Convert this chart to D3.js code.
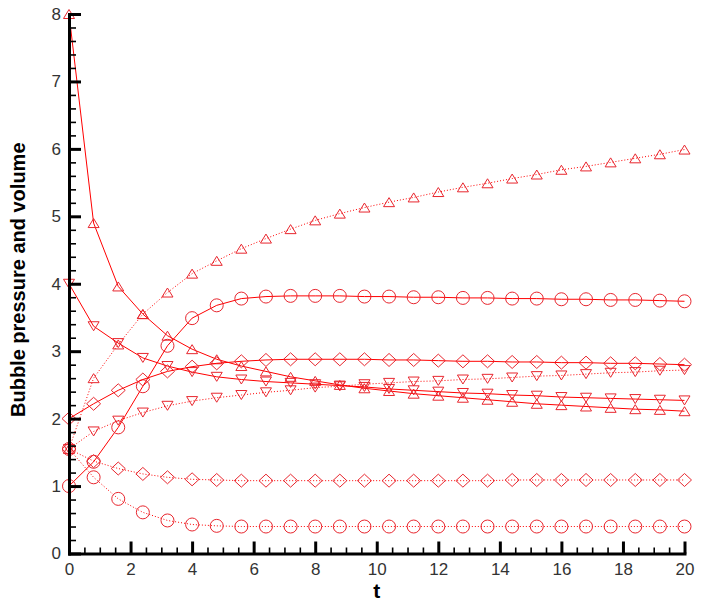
<!DOCTYPE html>
<html>
<head>
<meta charset="utf-8">
<script src="https://cdn.jsdelivr.net/npm/d3@7"></script>
<style>
  body { margin: 0; background: #fff; }
  svg { display: block; font-family: "Liberation Sans", Arial, sans-serif; }
</style>
</head>
<body>
<div id="chart"></div>
<script>
// ------------------- //
// DATA
// ------------------- //

// time samples (one marker on every sample)
var tValues = [0, 0.8, 1.6, 2.4, 3.2, 4, 4.8, 5.6, 6.4, 7.2, 8, 8.8, 9.6,
  10.4, 11.2, 12, 12.8, 13.6, 14.4, 15.2, 16, 16.8, 17.6, 18.4, 19.2, 20]

// solid lines
var triUpSolid = [8.0, 4.9, 3.96, 3.55, 3.23, 3.03, 2.88, 2.78, 2.70, 2.62, 2.56, 2.50, 2.45,
  2.41, 2.37, 2.34, 2.31, 2.28, 2.25, 2.22, 2.20, 2.18, 2.16, 2.14, 2.13, 2.11]
var triDownSolid = [4.0, 3.37, 3.12, 2.90, 2.78, 2.69, 2.62, 2.58, 2.55, 2.53, 2.51, 2.49, 2.47,
  2.44, 2.42, 2.40, 2.38, 2.37, 2.35, 2.34, 2.32, 2.31, 2.30, 2.29, 2.28, 2.27]
var circleSolid = [1.0, 1.36, 1.87, 2.48, 3.08, 3.49, 3.68, 3.78, 3.81, 3.82, 3.82, 3.82, 3.81,
  3.81, 3.80, 3.80, 3.79, 3.79, 3.78, 3.78, 3.77, 3.77, 3.76, 3.76, 3.75, 3.74]
var diamondSolid = [2.0, 2.22, 2.42, 2.58, 2.70, 2.77, 2.82, 2.85, 2.87, 2.88, 2.88, 2.88, 2.88,
  2.87, 2.87, 2.86, 2.85, 2.85, 2.84, 2.84, 2.83, 2.83, 2.82, 2.82, 2.81, 2.80]

// dotted lines
var triUpDotted = [1.55, 2.6, 3.1, 3.55, 3.87, 4.15, 4.34, 4.52, 4.67, 4.81, 4.94, 5.04, 5.13,
  5.21, 5.28, 5.36, 5.43, 5.49, 5.56, 5.62, 5.69, 5.74, 5.80, 5.86, 5.92, 5.99]
var triDownDotted = [1.55, 1.81, 1.97, 2.09, 2.19, 2.26, 2.31, 2.35, 2.39, 2.42, 2.46, 2.48, 2.51,
  2.53, 2.55, 2.56, 2.58, 2.59, 2.61, 2.63, 2.64, 2.66, 2.68, 2.69, 2.71, 2.72]
var diamondDotted = [1.55, 1.37, 1.26, 1.18, 1.13, 1.10, 1.09, 1.08, 1.08, 1.08, 1.08, 1.08, 1.08,
  1.08, 1.08, 1.08, 1.08, 1.08, 1.09, 1.09, 1.09, 1.09, 1.09, 1.09, 1.09, 1.09]
var circleDotted = [1.55, 1.13, 0.81, 0.61, 0.49, 0.43, 0.41, 0.40, 0.40, 0.40, 0.40, 0.40, 0.40,
  0.40, 0.40, 0.40, 0.40, 0.40, 0.40, 0.40, 0.40, 0.40, 0.40, 0.40, 0.40, 0.40]

// axis ticks
var xMajorTicks = [0, 2, 4, 6, 8, 10, 12, 14, 16, 18, 20]
var xMinorTicks = [0.5, 1, 1.5, 2.5, 3, 3.5, 4.5, 5, 5.5, 6.5, 7, 7.5, 8.5, 9, 9.5, 10.5, 11, 11.5,
  12.5, 13, 13.5, 14.5, 15, 15.5, 16.5, 17, 17.5, 18.5, 19, 19.5]
var yMajorTicks = [0, 1, 2, 3, 4, 5, 6, 7, 8]
var yMinorTicks = [0.2, 0.4, 0.6, 0.8, 1.2, 1.4, 1.6, 1.8, 2.2, 2.4, 2.6, 2.8, 3.2, 3.4, 3.6, 3.8,
  4.2, 4.4, 4.6, 4.8, 5.2, 5.4, 5.6, 5.8, 6.2, 6.4, 6.6, 6.8, 7.2, 7.4, 7.6, 7.8]

var series = [
  {values: triUpSolid,    symbol: "triUp",   dotted: false},
  {values: triDownSolid,  symbol: "triDown", dotted: false},
  {values: circleSolid,   symbol: "circle",  dotted: false},
  {values: diamondSolid,  symbol: "diamond", dotted: false},
  {values: triUpDotted,   symbol: "triUp",   dotted: true},
  {values: triDownDotted, symbol: "triDown", dotted: true},
  {values: diamondDotted, symbol: "diamond", dotted: true},
  {values: circleDotted,  symbol: "circle",  dotted: true}
]

// ------------------- //
// SVG AND SCALES
// ------------------- //

var W = 701, H = 602
var svg = d3.select("#chart")
  .append("svg")
    .attr("width", W)
    .attr("height", H)

var x = d3.scaleLinear().domain([0, 20]).range([69, 684.5])
var y = d3.scaleLinear().domain([0, 8]).range([553.5, 14])

var red = "#f00"

// marker outlines, centred on the point
function markerPath(kind) {
  if (kind == "circle") return "M6.5,0A6.5,6.5 0 1,1 -6.5,0A6.5,6.5 0 1,1 6.5,0Z"
  if (kind == "diamond") return "M0,-6.5L7,0L0,6.5L-7,0Z"
  if (kind == "triUp") return "M0,-4.5L5.5,4.5L-5.5,4.5Z"
  return "M0,4.5L5.5,-4.5L-5.5,-4.5Z"
}

// ------------------- //
// LINES AND MARKERS
// ------------------- //

var line = d3.line()
  .x(function(d, i) { return x(tValues[i]) })
  .y(function(d) { return y(d) })

series.forEach(function(s) {
  svg.append("path")
    .datum(s.values)
    .attr("d", line)
    .attr("fill", "none")
    .attr("stroke", red)
    .attr("stroke-width", 1)
    .attr("stroke-dasharray", s.dotted ? "1,2" : null)

  svg.append("g")
    .selectAll("path")
    .data(s.values)
    .enter()
    .append("path")
      .attr("transform", function(d, i) { return "translate(" + x(tValues[i]) + "," + y(d) + ")" })
      .attr("d", markerPath(s.symbol))
      .attr("fill", "none")
      .attr("stroke", "#e8262e")
      .attr("stroke-width", 1)
})

// ------------------- //
// AXES
// ------------------- //

var xAxis = svg.append("g")
  .attr("transform", "translate(0," + y(0) + ")")
  .call(d3.axisBottom(x).tickValues(xMajorTicks).tickSize(-12).tickSizeOuter(0).tickPadding(9))
var xMinor = svg.append("g")
  .attr("transform", "translate(0," + y(0) + ")")
  .call(d3.axisBottom(x).tickValues(xMinorTicks).tickSize(-6).tickSizeOuter(0).tickFormat(""))

var yAxis = svg.append("g")
  .attr("transform", "translate(" + x(0) + ",0)")
  .call(d3.axisLeft(y).tickValues(yMajorTicks).tickSize(-12).tickSizeOuter(0).tickPadding(8))
var yMinor = svg.append("g")
  .attr("transform", "translate(" + x(0) + ",0)")
  .call(d3.axisLeft(y).tickValues(yMinorTicks).tickSize(-7).tickSizeOuter(0).tickFormat(""))

svg.selectAll(".domain").attr("stroke", "#000").attr("stroke-width", 3).attr("stroke-linecap", "square")
xAxis.selectAll(".tick line").attr("stroke", "#000").attr("stroke-width", 3)
yAxis.selectAll(".tick line").attr("stroke", "#000").attr("stroke-width", 3)
xMinor.selectAll(".tick line").attr("stroke", "#000").attr("stroke-width", 1.6)
yMinor.selectAll(".tick line").attr("stroke", "#000").attr("stroke-width", 1.6)
xMinor.select(".domain").remove()
yMinor.select(".domain").remove()

svg.selectAll(".tick text")
  .style("font-size", "17px")
  .style("font-family", "'Liberation Sans', Arial, sans-serif")
  .attr("fill", "#333")

// axis titles
svg.append("text")
  .attr("x", (x(0) + x(20)) / 2)
  .attr("y", 597.5)
  .attr("text-anchor", "middle")
  .style("font-size", "21px")
  .style("font-weight", "bold")
  .text("t")

svg.append("text")
  .attr("transform", "translate(25," + ((y(0) + y(8)) / 2 - 4) + ") rotate(-90)")
  .attr("text-anchor", "middle")
  .style("font-size", "20px")
  .style("font-weight", "bold")
  .text("Bubble pressure and volume")
</script>
</body>
</html>
